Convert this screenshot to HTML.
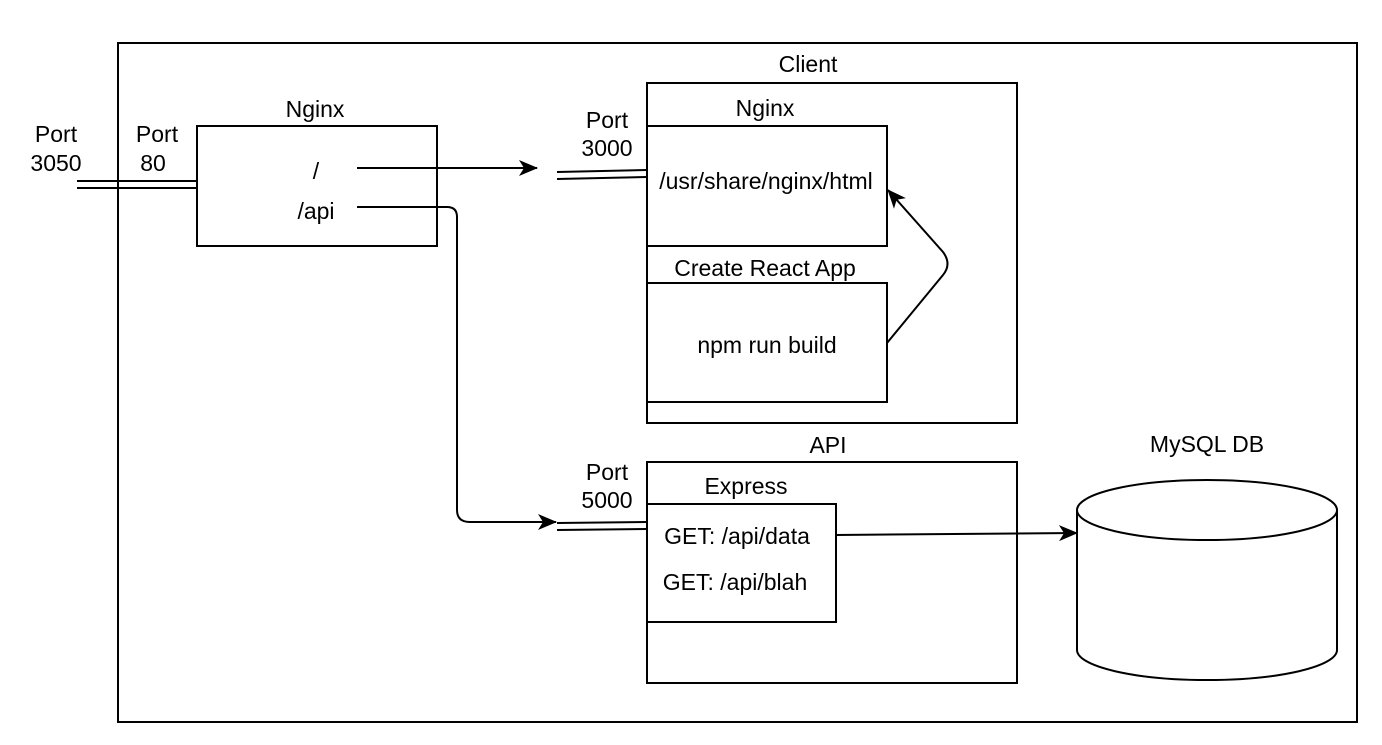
<!DOCTYPE html>
<html><head><meta charset="utf-8"><style>
html,body{margin:0;padding:0;background:#fff}
svg text{font-family:"Liberation Sans",Helvetica,Arial,sans-serif;font-size:23px;fill:#000;text-anchor:middle}
</style></head><body>
<svg width="1382" height="740" viewBox="0 0 1382 740" xmlns="http://www.w3.org/2000/svg">
<defs><marker id="a" markerWidth="20" markerHeight="16" refX="18" refY="8" orient="auto" markerUnits="userSpaceOnUse"><path d="M0,0 L19,8 L0,16 L5,8 Z" fill="#000"/></marker></defs>
<g fill="none" stroke="#000" stroke-width="2">
<rect x="118" y="43" width="1239" height="679"/>
<rect x="197" y="126" width="240" height="120"/>
<rect x="647" y="83" width="370" height="340"/>
<rect x="647" y="126" width="240" height="120"/>
<rect x="647" y="283" width="240" height="119"/>
<rect x="647" y="462" width="370" height="221"/>
<rect x="647" y="504" width="189" height="118"/>
<line x1="77" y1="181" x2="197" y2="181"/><line x1="77" y1="188" x2="197" y2="188"/>
<line x1="557" y1="172" x2="647" y2="170"/><line x1="557" y1="179" x2="647" y2="177"/>
<line x1="557" y1="523" x2="647" y2="522"/><line x1="557" y1="530" x2="647" y2="529"/>
<line x1="357" y1="168" x2="537" y2="168" marker-end="url(#a)"/>
<path d="M357,207 L447,207 Q457,207 457,217 L457,510 Q457,522 470,522 L556,522" marker-end="url(#a)"/>
<path d="M887,343 L943,275 Q952,264 943,252 L888,190" marker-end="url(#a)"/>
<line x1="836" y1="535" x2="1077" y2="533" marker-end="url(#a)"/>
<path d="M1077,510 L1077,650 A130,30 0 0 0 1337,650 L1337,510"/>
<ellipse cx="1207" cy="510" rx="130" ry="30"/>
</g>
<text x="56" y="142">Port</text><text x="56" y="171">3050</text>
<text x="157" y="142">Port</text><text x="153" y="171">80</text>
<text x="315" y="117">Nginx</text>
<text x="316" y="179">/</text><text x="316" y="219">/api</text>
<text x="808" y="72">Client</text>
<text x="765" y="116">Nginx</text>
<text x="607" y="128">Port</text><text x="607" y="156">3000</text>
<text x="766" y="189">/usr/share/nginx/html</text>
<text x="765" y="276">Create React App</text>
<text x="767" y="353">npm run build</text>
<text x="828" y="453">API</text>
<text x="746" y="494">Express</text>
<text x="607" y="480">Port</text><text x="607" y="508">5000</text>
<text x="737" y="544">GET: /api/data</text>
<text x="735" y="590">GET: /api/blah</text>
<text x="1207" y="452">MySQL DB</text>
</svg>
</body></html>
